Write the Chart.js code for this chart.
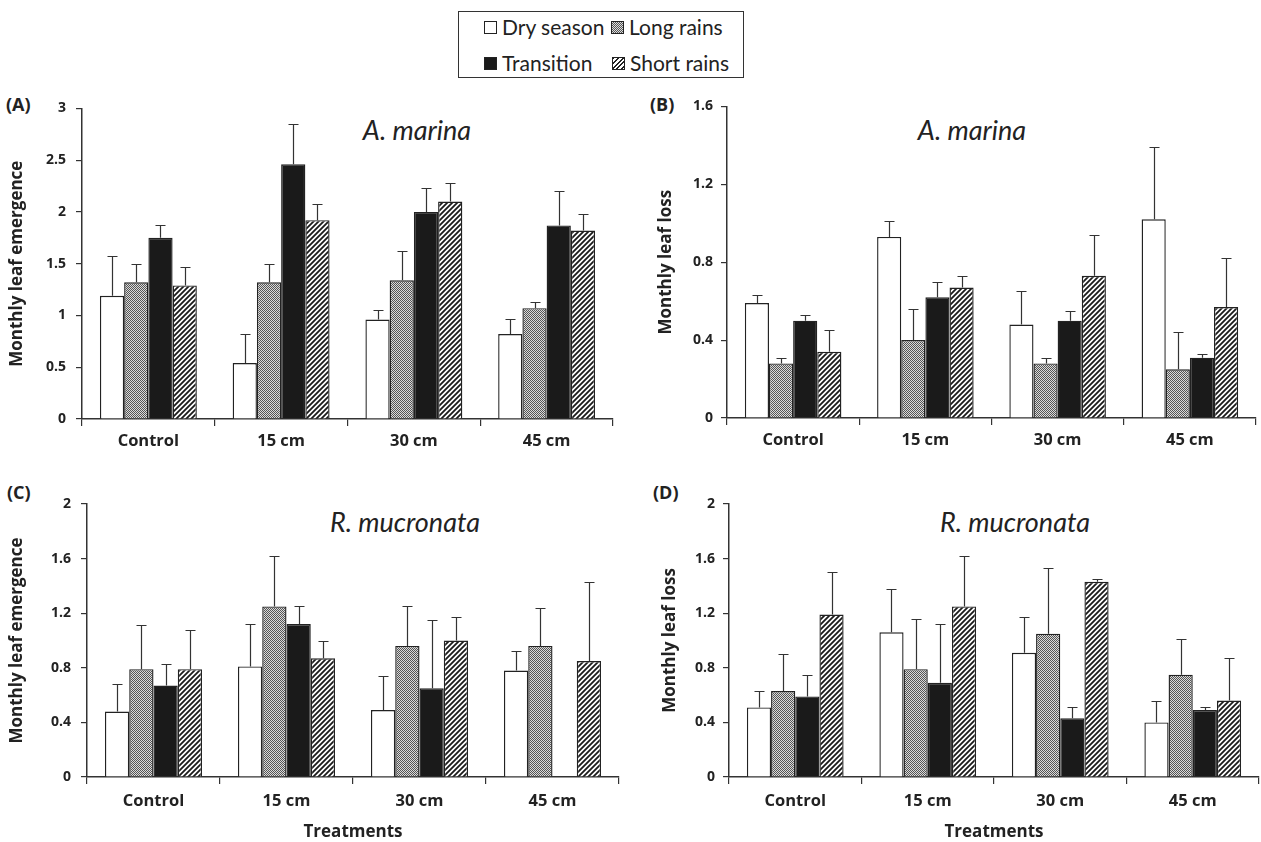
<!DOCTYPE html>
<html>
<head>
<meta charset="utf-8">
<script src="https://cdn.jsdelivr.net/npm/chart.js@4.4.1/dist/chart.umd.min.js"></script>
<style>
  body { margin: 0; background: #fff; font-family: Lato, "Open Sans", sans-serif; color: #222; }
  #page { position: relative; width: 1261px; height: 842px; overflow: hidden; }
  canvas { position: absolute; }
  .lbl { position: absolute; font-family: "Open Sans", sans-serif; font-weight: bold; font-size: 18px; line-height: 20px; }
  .species { position: absolute; font-style: italic; font-size: 27px; line-height: 30px; transform: translateX(-50%); white-space: nowrap; }
  #legend { position: absolute; left: 458px; top: 11px; width: 284px; height: 65px; border: 1.5px solid #333; }
  .item { position: absolute; font-size: 21px; line-height: 24px; white-space: nowrap; }
  .sw { display: inline-block; width: 11px; height: 11px; border: 1px solid #222; margin-right: 5px; vertical-align: 1px; }
  .sw.dry { background: #fff; }
  .sw.long { background: repeating-conic-gradient(#555 0 25%, #ddd 0 50%) 0 0 / 2px 2px; }
  .sw.trans { background: #1a1a1a; }
  .sw.short { background: repeating-linear-gradient(135deg, #222 0 1.4px, #fff 1.4px 3.2px); }
</style>
</head>
<body>
<div id="page">
  <div id="legend">
    <div class="item" style="left:25px;top:3px"><span class="sw dry"></span>Dry season</div>
    <div class="item" style="left:152px;top:3px"><span class="sw long"></span>Long rains</div>
    <div class="item" style="left:25px;top:39px"><span class="sw trans"></span>Transition</div>
    <div class="item" style="left:153px;top:39px"><span class="sw short"></span>Short rains</div>
  </div>

  <div class="lbl" style="left:6px;top:94px">(A)</div>
  <div class="lbl" style="left:650px;top:94px">(B)</div>
  <div class="lbl" style="left:7px;top:482px">(C)</div>
  <div class="lbl" style="left:653px;top:482px">(D)</div>

  <div class="species" style="left:417px;top:115px">A. marina</div>
  <div class="species" style="left:972px;top:115px">A. marina</div>
  <div class="species" style="left:405px;top:507px">R. mucronata</div>
  <div class="species" style="left:1015px;top:507px">R. mucronata</div>

  <canvas id="chartA" width="630" height="375" style="left:0;top:90px;width:630px;height:375px"></canvas>
  <canvas id="chartB" width="641" height="375" style="left:620px;top:90px;width:641px;height:375px"></canvas>
  <canvas id="chartC" width="630" height="362" style="left:0;top:480px;width:630px;height:362px"></canvas>
  <canvas id="chartD" width="641" height="362" style="left:620px;top:480px;width:641px;height:362px"></canvas>
</div>

<script>
// categories and series
const treatments = ["Control", "15 cm", "30 cm", "45 cm"];
const seasons = ["Dry season", "Long rains", "Transition", "Short rains"];

// (A) A. marina, monthly leaf emergence: rows = seasons, columns = treatments
const emergenceMarina = [
    [1.19, 0.54, 0.96, 0.82],
    [1.32, 1.32, 1.34, 1.07],
    [1.75, 2.46, 2.00, 1.87],
    [1.29, 1.92, 2.10, 1.82],
];
const emergenceMarinaTop = [
    [1.57, 0.82, 1.05, 0.97],
    [1.50, 1.50, 1.62, 1.13],
    [1.87, 2.85, 2.23, 2.20],
    [1.47, 2.08, 2.28, 1.98],
];

// (B) A. marina, monthly leaf loss
const lossMarina = [
    [0.59, 0.93, 0.48, 1.02],
    [0.28, 0.40, 0.28, 0.25],
    [0.50, 0.62, 0.50, 0.31],
    [0.34, 0.67, 0.73, 0.57],
];
const lossMarinaTop = [
    [0.63, 1.01, 0.65, 1.39],
    [0.31, 0.56, 0.31, 0.44],
    [0.53, 0.70, 0.55, 0.33],
    [0.45, 0.73, 0.94, 0.82],
];

// (C) R. mucronata, monthly leaf emergence
const emergenceMucronata = [
    [0.48, 0.81, 0.49, 0.78],
    [0.79, 1.25, 0.96, 0.96],
    [0.67, 1.12, 0.65, null],
    [0.79, 0.87, 1.00, 0.85],
];
const emergenceMucronataTop = [
    [0.68, 1.12, 0.74, 0.92],
    [1.11, 1.62, 1.25, 1.24],
    [0.83, 1.25, 1.15, null],
    [1.08, 1.00, 1.17, 1.43],
];

// (D) R. mucronata, monthly leaf loss
const lossMucronata = [
    [0.51, 1.06, 0.91, 0.40],
    [0.63, 0.79, 1.05, 0.75],
    [0.59, 0.69, 0.43, 0.49],
    [1.19, 1.25, 1.43, 0.56],
];
const lossMucronataTop = [
    [0.63, 1.38, 1.17, 0.56],
    [0.90, 1.16, 1.53, 1.01],
    [0.75, 1.12, 0.51, 0.51],
    [1.50, 1.62, 1.45, 0.87],
];

// y tick labels
const ticksA = [0, 0.5, 1, 1.5, 2, 2.5, 3];
const ticksB = [0, 0.4, 0.8, 1.2, 1.6];
const ticksCD = [0, 0.4, 0.8, 1.2, 1.6, 2];

Chart.defaults.font.family = "'Open Sans', Lato, sans-serif";
Chart.defaults.color = "#222";

function checkerPattern() {
    const c = document.createElement("canvas");
    c.width = 2; c.height = 2;
    const g = c.getContext("2d");
    g.fillStyle = "#dadada";
    g.fillRect(0, 0, 2, 2);
    g.fillStyle = "#555";
    g.fillRect(0, 0, 1, 1);
    g.fillRect(1, 1, 1, 1);
    return g.createPattern(c, "repeat");
}

function hatchPattern() {
    const s = 5;
    const c = document.createElement("canvas");
    c.width = s; c.height = s;
    const g = c.getContext("2d");
    g.fillStyle = "#fff";
    g.fillRect(0, 0, s, s);
    g.strokeStyle = "#1a1a1a";
    g.lineWidth = 1.8;
    g.beginPath();
    g.moveTo(-1, 1); g.lineTo(1, -1);
    g.moveTo(0, s); g.lineTo(s, 0);
    g.moveTo(s - 1, s + 1); g.lineTo(s + 1, s - 1);
    g.stroke();
    return g.createPattern(c, "repeat");
}

const fills = ["#ffffff", checkerPattern(), "#1a1a1a", hatchPattern()];

// one-sided error bars drawn from the bar top up to the stored upper value
const errorBars = {
    id: "errorBars",
    afterDatasetsDraw(chart) {
        const ctx = chart.ctx;
        const y = chart.scales.y;
        ctx.save();
        ctx.strokeStyle = "#333";
        ctx.lineWidth = 1.2;
        chart.data.datasets.forEach((ds, i) => {
            chart.getDatasetMeta(i).data.forEach((bar, j) => {
                const top = ds.upper[j];
                if (top == null || ds.data[j] == null) {
                    return;
                }
                const x = Math.round(bar.x) + 0.5;
                const yTop = Math.round(y.getPixelForValue(top)) + 0.5;
                ctx.beginPath();
                ctx.moveTo(x, bar.y);
                ctx.lineTo(x, yTop);
                ctx.moveTo(x - 5, yTop);
                ctx.lineTo(x + 5, yTop);
                ctx.stroke();
            });
        });
        ctx.restore();
    },
};

function makePanel(id, p) {
    new Chart(document.getElementById(id), {
        type: "bar",
        data: {
            labels: treatments,
            datasets: seasons.map((name, i) => ({
                label: name,
                data: p.values[i],
                upper: p.tops[i],
                backgroundColor: fills[i],
                borderColor: "#222",
                borderWidth: 1.4,
                categoryPercentage: 0.73,
                barPercentage: 1.0,
            })),
        },
        options: {
            responsive: false,
            animation: false,
            layout: { padding: { top: p.padTop, right: p.padRight, left: 0, bottom: 0 } },
            plugins: { legend: { display: false }, tooltip: { enabled: false } },
            scales: {
                x: {
                    grid: { display: true, drawOnChartArea: false, drawTicks: true, tickLength: 7, color: "#333", lineWidth: 1.2, offset: true },
                    border: { color: "#333", width: 1.5 },
                    ticks: { font: { size: 16.5, weight: "bold" }, color: "#222", padding: p.xPad },
                    title: {
                        display: !!p.xTitle,
                        text: p.xTitle || "",
                        font: { size: 17, weight: "bold" },
                        color: "#222",
                        padding: { top: 0, bottom: 0 },
                    },
                    afterFit: (s) => { s.height = p.xHeight; },
                },
                y: {
                    min: 0,
                    max: p.ticks[p.ticks.length - 1],
                    afterBuildTicks: (s) => { s.ticks = p.ticks.map((v) => ({ value: v })); },
                    grid: { display: true, drawOnChartArea: false, drawTicks: true, tickLength: 6, color: "#333", lineWidth: 1.2 },
                    border: { color: "#333", width: 1.5 },
                    ticks: {
                        font: { size: 14, weight: "bold" },
                        color: "#222",
                        padding: p.yPad,
                        callback: (v) => String(+Number(v).toFixed(1)),
                    },
                    title: {
                        display: true,
                        text: p.yTitle,
                        font: { size: 17, weight: "bold" },
                        color: "#222",
                        padding: { top: p.yTitlePad, bottom: 0 },
                    },
                    afterFit: (s) => { s.width = p.yWidth; },
                },
            },
        },
        plugins: [errorBars],
    });
}

makePanel("chartA", {
    values: emergenceMarina, tops: emergenceMarinaTop, ticks: ticksA,
    yTitle: "Monthly leaf emergence", yWidth: 82, yTitlePad: 7, yPad: 10,
    padTop: 14, padRight: 17, xHeight: 46, xPad: 5,
});
makePanel("chartB", {
    values: lossMarina, tops: lossMarinaTop, ticks: ticksB,
    yTitle: "Monthly leaf loss", yWidth: 107, yTitlePad: 36, yPad: 8,
    padTop: 12, padRight: 5, xHeight: 47, xPad: 5,
});
makePanel("chartC", {
    values: emergenceMucronata, tops: emergenceMucronataTop, ticks: ticksCD,
    yTitle: "Monthly leaf emergence", yWidth: 87, yTitlePad: 7, yPad: 10,
    padTop: 24, padRight: 11, xHeight: 65, xPad: 7, xTitle: "Treatments",
});
makePanel("chartD", {
    values: lossMucronata, tops: lossMucronataTop, ticks: ticksCD,
    yTitle: "Monthly leaf loss", yWidth: 109, yTitlePad: 40, yPad: 8,
    padTop: 24, padRight: 2, xHeight: 65, xPad: 7, xTitle: "Treatments",
});
</script>
</body>
</html>
